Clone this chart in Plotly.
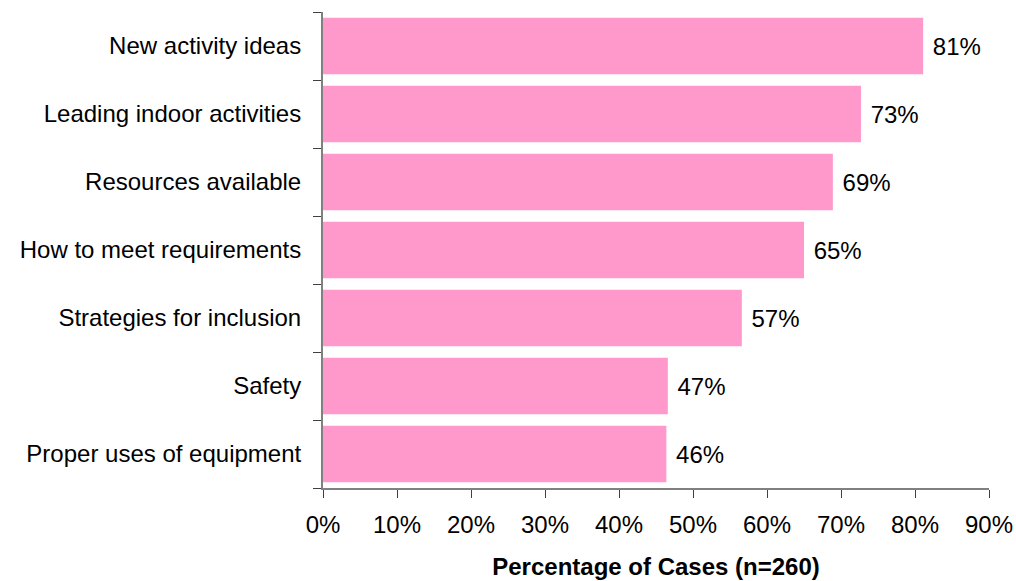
import plotly.graph_objects as go

categories = ["New activity ideas", "Leading indoor activities", "Resources available",
              "How to meet requirements", "Strategies for inclusion", "Safety",
              "Proper uses of equipment"]
values = [81.1, 72.7, 68.9, 65.0, 56.6, 46.6, 46.4]
labels = ["81%", "73%", "69%", "65%", "57%", "47%", "46%"]
tick_vals = [0, 10, 20, 30, 40, 50, 60, 70, 80, 90]
tick_text = ["0%", "10%", "20%", "30%", "40%", "50%", "60%", "70%", "80%", "90%"]

font = "Liberation Sans, Arial, sans-serif"

fig = go.Figure(go.Bar(
    x=values, y=categories, orientation="h",
    marker=dict(color="#FF99CC", line=dict(width=0)),
    text=labels, texttemplate=" %{text}", textposition="outside",
    textfont=dict(size=24, color="black", family=font),
    cliponaxis=False,
))

fig.update_layout(
    width=1016, height=581,
    margin=dict(l=323, r=27, t=12, b=93, autoexpand=False),
    plot_bgcolor="white", paper_bgcolor="white",
    bargap=0.17,
    showlegend=False,
    font=dict(family=font, size=24, color="black"),
)
fig.update_xaxes(
    range=[0, 90], tickvals=tick_vals, ticktext=tick_text,
    automargin=False,
    showgrid=False, zeroline=False,
    showline=True, linecolor="#808080", linewidth=1.5,
    ticks="outside", ticklen=8, tickcolor="#404040", tickwidth=1,
    tickfont=dict(size=24, family=font),
    ticklabelstandoff=6,
    title=dict(text="<b>Percentage of Cases (n=260)</b>", font=dict(size=24, family=font), standoff=22),
)
fig.update_yaxes(
    categoryorder="array", categoryarray=categories[::-1],
    automargin=False,
    showgrid=False, zeroline=False,
    showline=True, linecolor="#808080", linewidth=2,
    ticks="outside", ticklen=8, tickcolor="#404040", tickwidth=1,
    tickson="boundaries",
    tickfont=dict(size=24, family=font),
    ticklabelstandoff=15,
)

fig.write_html("out.html")
